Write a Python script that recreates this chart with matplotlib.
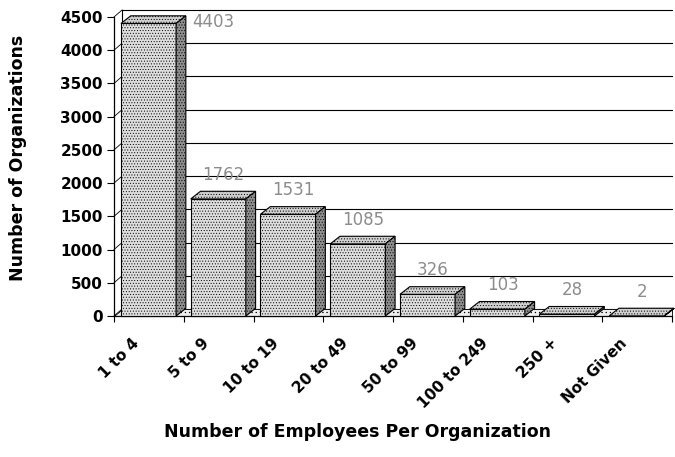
import matplotlib.pyplot as plt
from matplotlib.patches import Polygon, Rectangle
import matplotlib as mpl

# data
categories = ["1 to 4", "5 to 9", "10 to 19", "20 to 49", "50 to 99",
              "100 to 249", "250 +", "Not Given"]
counts = [4403, 1762, 1531, 1085, 326, 103, 28, 2]
yticks = [0, 500, 1000, 1500, 2000, 2500, 3000, 3500, 4000, 4500]

mpl.rcParams['hatch.color'] = '#5a5a5a'
mpl.rcParams['hatch.linewidth'] = 0.4

W, H = 675, 457
fig = plt.figure(figsize=(W / 100, H / 100), dpi=100)
ax = fig.add_axes([114 / W, (H - 316) / H, (672 - 114) / W, 299 / H])
ax.set_xlim(0, len(categories))
ax.set_ylim(0, 4500)

# 3d depth offsets (data units)
DX = 0.115
DY = 105
BDX = 0.14
BDY = 115

# back wall gridlines and floor
for v in yticks:
    ax.plot([DX, len(categories)], [v + DY, v + DY], color='black', lw=0.8,
            clip_on=False, zorder=1)
    ax.plot([0, DX], [v, v + DY], color='black', lw=0.6, clip_on=False, zorder=1)
ax.plot([DX, DX], [DY, 4500 + DY], color='black', lw=0.8, clip_on=False, zorder=1)
floor = Polygon([(0, 0), (len(categories), 0), (len(categories), DY), (DX, DY)],
                closed=True, facecolor='#eeeeee', edgecolor='black', lw=0.6,
                hatch='....', zorder=1, clip_on=False)
ax.add_patch(floor)

# bars
for i, v in enumerate(counts):
    x0 = i + 0.1
    x1 = i + 0.89
    front = Rectangle((x0, 0), x1 - x0, v, facecolor='#dedede', edgecolor='black',
                      lw=0.8, hatch='......', zorder=3, clip_on=False)
    top = Polygon([(x0, v), (x0 + BDX, v + BDY), (x1 + BDX, v + BDY), (x1, v)],
                  closed=True, facecolor='#d0d0d0', edgecolor='black', lw=0.8,
                  hatch='......', zorder=3, clip_on=False)
    side = Polygon([(x1, 0), (x1 + BDX, BDY), (x1 + BDX, v + BDY), (x1, v)],
                   closed=True, facecolor='#8e8e8e', edgecolor='black', lw=0.8,
                   hatch='......', zorder=3, clip_on=False)
    for p in (front, top, side):
        ax.add_patch(p)

    ly = v + 360
    lx = i + 0.57
    if ly > 4500:
        ly = 4425
        lx = i + 1.42
    ax.text(lx, ly, str(v), ha='center', va='center', fontsize=12,
            color='#8c8c8c', zorder=4)

# axes styling
for s in ('top', 'right'):
    ax.spines[s].set_visible(False)
ax.spines['left'].set_linewidth(0.9)
ax.spines['bottom'].set_linewidth(0.9)
ax.set_yticks(yticks)
ax.set_yticklabels([str(t) for t in yticks], fontsize=11, fontweight='bold')
ax.tick_params(axis='y', length=5, width=0.8, pad=3)
ax.set_xticks(range(len(categories) + 1))
ax.set_xticklabels([])
ax.tick_params(axis='x', length=4, width=0.8)
ax.set_facecolor('none')

trans = mpl.transforms.blended_transform_factory(ax.transData, ax.transAxes)
for i, lab in enumerate(categories):
    ax.text(i + 0.5 - 0.25, -0.065, lab, transform=trans, rotation=45,
            ha='right', va='top', rotation_mode='anchor', fontsize=11,
            fontweight='bold')

fig.text(18 / W, 1 - 158 / H, "Number of Organizations", rotation=90,
         ha='center', va='center', fontsize=12.5, fontweight='bold')
fig.text(357 / W, 1 - 432 / H, "Number of Employees Per Organization",
         ha='center', va='center', fontsize=12.5, fontweight='bold')

fig.savefig("out.png", dpi=100)
